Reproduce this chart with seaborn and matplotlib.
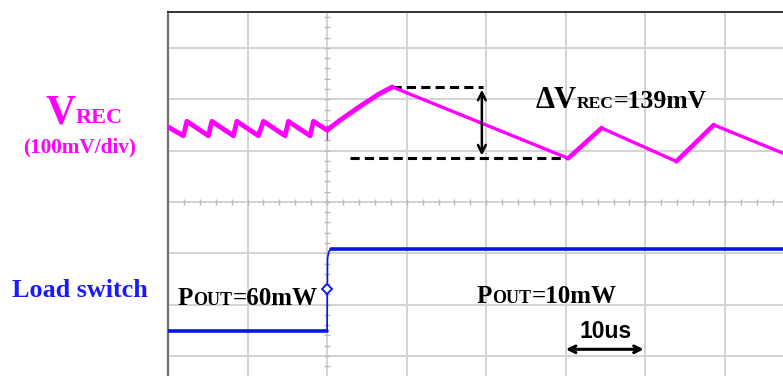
import numpy as np
import pandas as pd
import matplotlib
matplotlib.use("Agg")
import matplotlib.pyplot as plt
import matplotlib.transforms as mtransforms
import seaborn as sns

# Scope screen in divisions: 10 us/div horizontally, V_REC at 100 mV/div.
# Trigger (load switch) sits at t = 0.
vrec_t = [-2.00, -1.806, -1.763, -1.492, -1.449, -1.178, -1.135, -0.864, -0.801,
          -0.528, -0.486, -0.214, -0.172, 0.00, 0.16, 0.45, 0.65, 0.82,
          3.03, 3.45, 4.39, 4.86, 5.73]
vrec_v = [1.46, 1.29, 1.57, 1.29, 1.57, 1.29, 1.57, 1.29, 1.57,
          1.29, 1.57, 1.29, 1.57, 1.40, 1.59, 1.90, 2.10, 2.24,
          0.85, 1.44, 0.79, 1.50, 0.95]
trigger_spike_v = [1.21, 1.50]

load_t = [-2.00, 0.00, 0.005, 0.02, 0.05, 5.73]
load_v = [-2.51, -2.51, -1.10, -0.97, -0.92, -0.92]
trigger_marker = (0.0, -1.70)

delta_v_mv = 139
x_grid = list(range(-2, 6))
y_grid = list(range(-3, 4))

MAGENTA = "#ff00ff"
BLUE = "#0a14f0"
W, H, DPI = 783, 376, 100

sns.set_style("white")
plt.rcParams["font.family"] = ["Liberation Serif", "DejaVu Serif"]

fig = plt.figure(figsize=(W / DPI, H / DPI), dpi=DPI)
ax = fig.add_axes([168 / W, 0, 1 - 168 / W, 1 - 12 / H])
ax.set_xlim(-2.0, 5.73)
ax.set_ylim(-3.39, 3.70)

# graticule
ax.set_xticks(x_grid)
ax.set_yticks(y_grid)
ax.grid(True, color="#d3d3d3", lw=1.4)
ax.tick_params(length=0, labelbottom=False, labelleft=False)
for side in ("right", "bottom"):
    ax.spines[side].set_visible(False)
ax.spines["left"].set_color("#707070")
ax.spines["left"].set_linewidth(1.6)
ax.spines["top"].set_color("#333333")
ax.spines["top"].set_linewidth(1.4)

# sub-division ticks on the centre lines
sub_x = np.arange(-2.0, 5.8, 0.2)
sub_y = np.arange(-3.4, 3.8, 0.2)
ax.plot(sub_x, np.zeros_like(sub_x), ls="none", marker="|", ms=4,
        mew=1.0, color="#b8b8b8", zorder=1)
ax.plot(np.zeros_like(sub_y), sub_y, ls="none", marker="_", ms=5,
        mew=1.0, color="#b8b8b8", zorder=1)

# V_REC trace (charging edges drawn heavier than the slow discharge)
df_v = pd.DataFrame({"t": vrec_t, "v": vrec_v})
sns.lineplot(data=df_v, x="t", y="v", sort=False, estimator=None,
             color=MAGENTA, lw=2.4, ax=ax, zorder=3)
sns.lineplot(data=df_v.iloc[:18], x="t", y="v", sort=False, estimator=None,
             color=MAGENTA, lw=3.5, ax=ax, zorder=3)
for i in (18, 20):
    sns.lineplot(data=df_v.iloc[i:i + 2], x="t", y="v", sort=False, estimator=None,
                 color=MAGENTA, lw=3.3, ax=ax, zorder=3)
ax.vlines(0, trigger_spike_v[0], trigger_spike_v[1], color=MAGENTA, lw=1.0, zorder=3)

# load switch trace
df_l = pd.DataFrame({"t": load_t, "v": load_v})
sns.lineplot(data=df_l, x="t", y="v", sort=False, estimator=None,
             color=BLUE, lw=1.2, ax=ax, zorder=3)
for seg in (df_l.iloc[:2], df_l.iloc[-2:]):
    sns.lineplot(data=seg, x="t", y="v", sort=False, estimator=None,
                 color=BLUE, lw=2.6, ax=ax, zorder=3)
ax.plot(*trigger_marker, marker="D", ms=5.5, mfc="white", mec=BLUE, mew=1.3, zorder=4)
ax.set_xlabel("")
ax.set_ylabel("")

# ripple measurement
peak_t, peak_v = vrec_t[17], vrec_v[17]
trough_t = vrec_t[18]
trough_v = peak_v - delta_v_mv / 100.0
dash = (0, (3.0, 1.7))
ax.plot([peak_t, 1.96], [peak_v, peak_v], color="black", lw=2.2, ls=dash, zorder=2)
ax.plot([0.29, trough_t], [trough_v, trough_v], color="black", lw=2.2, ls=dash, zorder=2)
ax.annotate("", xy=(1.945, trough_v), xytext=(1.945, peak_v),
            arrowprops=dict(arrowstyle="<->", lw=1.8, color="black",
                            mutation_scale=14, shrinkA=2, shrinkB=2), zorder=5)

# time scale bar (one division)
ax.annotate("", xy=(3.0, -2.87), xytext=(3.98, -2.87),
            arrowprops=dict(arrowstyle="<->", lw=2.2, color="black",
                            mutation_scale=12, shrinkA=0, shrinkB=0), zorder=5)
ax.text(3.5, -2.65, "10us", ha="center", va="baseline", fontsize=16.5,
        fontweight="bold", family=["Liberation Sans", "DejaVu Sans"], color="black")

renderer = fig.canvas.get_renderer()


def rich_text(x_px, y_px, parts):
    """Write text pieces of different sizes side by side on a shared baseline."""
    trans = fig.transFigure
    x, y = x_px / W, 1 - y_px / H
    for s, size, color in parts:
        t = fig.text(x, y, s, transform=trans, fontsize=size, color=color,
                     fontweight="bold", va="baseline", ha="left")
        t.draw(renderer)
        ex = t.get_window_extent(renderer)
        trans = mtransforms.offset_copy(t.get_transform(), x=ex.width, units="dots")


rich_text(45, 123, [("V", 30, MAGENTA), ("REC", 16, MAGENTA)])
fig.text(80 / W, 1 - 152 / H, "(100mV/div)", ha="center", va="baseline",
         fontsize=15.3, fontweight="bold", color=MAGENTA)
fig.text(12 / W, 1 - 297 / H, "Load switch", ha="left", va="baseline",
         fontsize=18.8, fontweight="bold", color="#1a1aff")

rich_text(536, 107.5, [("\u0394V", 22, "black"), ("REC", 12.5, "black"),
                       (f"={delta_v_mv}mV", 18.5, "black")])
rich_text(178, 305, [("P", 18, "black"), ("OUT", 13, "black"), ("=60mW", 18, "black")])
rich_text(477, 303, [("P", 18, "black"), ("OUT", 13, "black"), ("=10mW", 18, "black")])

fig.savefig("out.png", dpi=DPI)
